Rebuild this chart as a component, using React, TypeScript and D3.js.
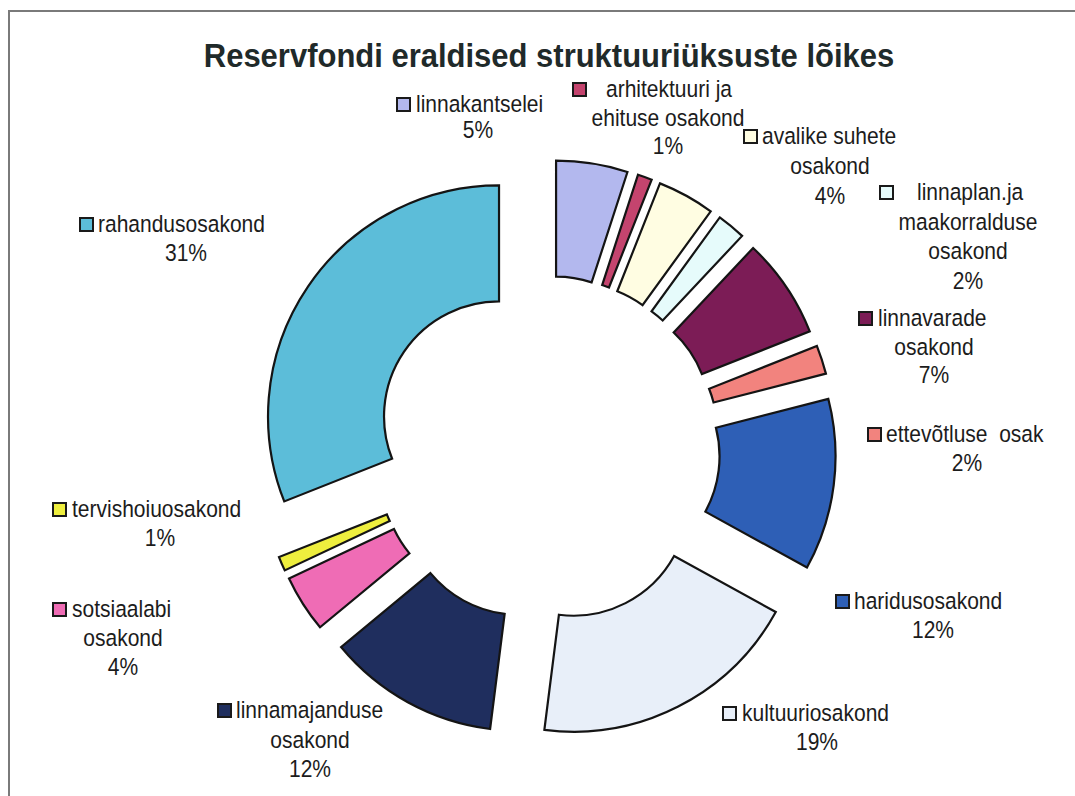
import React, { useEffect, useRef } from "react";
import * as d3 from "d3";

const TITLE = "Reservfondi eraldised struktuuriüksuste lõikes";

const categories = [
  "linnakantselei",
  "arhitektuuri ja ehituse osakond",
  "avalike suhete osakond",
  "linnaplan.ja maakorralduse osakond",
  "linnavarade osakond",
  "ettevõtluse  osak",
  "haridusosakond",
  "kultuuriosakond",
  "linnamajanduse osakond",
  "sotsiaalabi osakond",
  "tervishoiuosakond",
  "rahandusosakond",
];

const values = [5, 1, 4, 2, 7, 2, 12, 19, 12, 4, 1, 31];

// label text split into lines (first line carries the legend key)
const labelLines = [
  ["linnakantselei"],
  ["arhitektuuri ja", "ehituse osakond"],
  ["avalike suhete", "osakond"],
  ["linnaplan.ja", "maakorralduse", "osakond"],
  ["linnavarade", "osakond"],
  ["ettevõtluse  osak"],
  ["haridusosakond"],
  ["kultuuriosakond"],
  ["linnamajanduse", "osakond"],
  ["sotsiaalabi", "osakond"],
  ["tervishoiuosakond"],
  ["rahandusosakond"],
];

const colors = [
  "#b3b8ee",
  "#c4446e",
  "#fffde2",
  "#e6fbfb",
  "#7c1c56",
  "#f2837e",
  "#2e5fb6",
  "#e8eff9",
  "#1f2e5e",
  "#ef6cb5",
  "#eeee3e",
  "#5cbdd9",
];

// layout: key left x, first baseline y, text start x, center x of following lines, line gap
const labelLayout = [
  { kx: 396, ky: 112, tx: 416, cx: 478, gap: 26 },
  { kx: 572, ky: 97, tx: 606, cx: 668, gap: 28.5 },
  { kx: 743, ky: 144, tx: 762, cx: 830, gap: 30 },
  { kx: 879, ky: 200, tx: 917, cx: 968, gap: 29.5 },
  { kx: 858, ky: 326, tx: 878, cx: 934, gap: 28.5 },
  { kx: 867, ky: 442, tx: 886, cx: 967, gap: 28.5 },
  { kx: 835, ky: 609, tx: 854, cx: 933, gap: 28.5 },
  { kx: 722, ky: 721, tx: 742, cx: 817, gap: 28.5 },
  { kx: 217, ky: 718, tx: 236, cx: 310, gap: 29.5 },
  { kx: 52, ky: 617, tx: 72, cx: 123, gap: 29 },
  { kx: 52, ky: 517, tx: 72, cx: 160, gap: 28.5 },
  { kx: 79, ky: 232, tx: 98, cx: 186, gap: 29 },
];

const W = 1075;
const H = 796;
const CX = 547;
const CY = 449;
const R_OUT = 231;
const R_IN = 115;
const EXPLODE = 58;
const FONT = "'Liberation Sans', Arial, sans-serif";

export default function App() {
  const ref = useRef<SVGSVGElement>(null);

  useEffect(() => {
    const svg = d3.select(ref.current);
    svg.selectAll("*").remove();

    svg.append("rect").attr("width", W).attr("height", H).attr("fill", "#ffffff");

    // frame
    svg
      .append("path")
      .attr("d", `M9,${H + 10} L9,11 L${W + 10},11`)
      .attr("fill", "none")
      .attr("stroke", "#7a7a7a")
      .attr("stroke-width", 2);

    svg
      .append("text")
      .attr("transform", "translate(549,67) scale(1,1.05)")
      .attr("text-anchor", "middle")
      .attr("font-family", FONT)
      .attr("font-weight", "bold")
      .attr("font-size", 31)
      .attr("fill", "#1f2a2a")
      .text(TITLE);

    const pie = d3
      .pie<number>()
      .sort(null)
      .value((d) => d)
      .startAngle(0)
      .endAngle(2 * Math.PI);
    const arcs = pie(values);
    const arc = d3.arc<d3.PieArcDatum<number>>().innerRadius(R_IN).outerRadius(R_OUT);

    const g = svg.append("g").attr("transform", `translate(${CX},${CY})`);
    g.selectAll("path.slice")
      .data(arcs)
      .join("path")
      .attr("class", "slice")
      .attr("d", (d) => arc(d) as string)
      .attr("transform", (d) => {
        const m = (d.startAngle + d.endAngle) / 2;
        return `translate(${EXPLODE * Math.sin(m)},${-EXPLODE * Math.cos(m)})`;
      })
      .attr("fill", (_d, i) => colors[i])
      .attr("stroke", "#141414")
      .attr("stroke-width", 2.2)
      .attr("stroke-linejoin", "miter");

    const labels = svg.append("g").attr("font-family", FONT).attr("font-size", 21).attr("fill", "#1c1c1c");
    categories.forEach((_c, i) => {
      const L = labelLayout[i];
      const lines = [...labelLines[i], `${values[i]}%`];
      labels
        .append("rect")
        .attr("x", L.kx + 1)
        .attr("y", L.ky - 14)
        .attr("width", 13)
        .attr("height", 13)
        .attr("fill", colors[i])
        .attr("stroke", "#1a1a1a")
        .attr("stroke-width", 2);
      lines.forEach((t, j) => {
        const x = j === 0 ? L.tx : L.cx;
        const y = L.ky + j * L.gap;
        labels
          .append("text")
          .attr("transform", `translate(${x},${y}) scale(1,1.16)`)
          .attr("text-anchor", j === 0 ? "start" : "middle")
          .attr("xml:space", "preserve")
          .style("white-space", "pre")
          .text(t);
      });
    });
  }, []);

  return (
    <svg
      ref={ref}
      width={W}
      height={H}
      style={{ position: "absolute", left: 0, top: 0, display: "block" }}
    />
  );
}
